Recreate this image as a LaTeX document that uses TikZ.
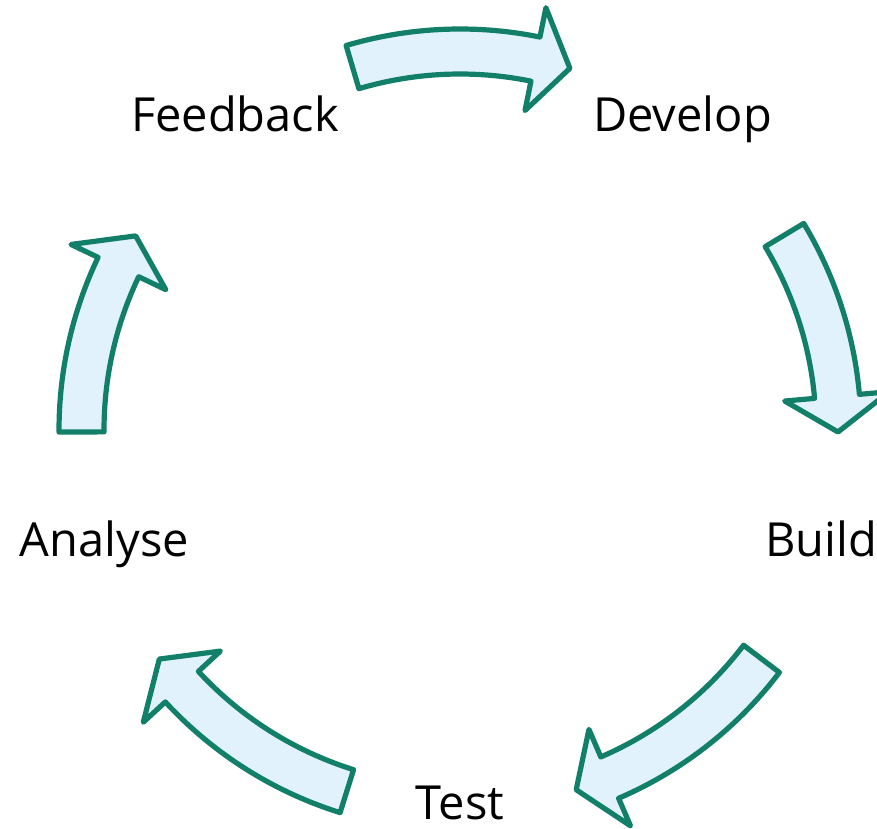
\documentclass[tikz,border=0pt]{standalone}
\usepackage{fontspec}
\setmainfont{Open Sans}
\definecolor{cyclefill}{RGB}{225,242,253}
\definecolor{cycleline}{RGB}{18,128,104}
\tikzset{
    cyclearrow/.style={draw=cycleline, fill=cyclefill, line width=5.2pt, line join=round},
    stage/.style={font=\fontsize{47}{56}\selectfont, inner sep=0pt, anchor=base},
}

\begin{document}
\begin{tikzpicture}[x=1pt, y=1pt]
\useasboundingbox (0,0) rectangle (877,828);
\coordinate (hub) at (460,398);

% Stages
\node[stage] (feedback) at (235,696.3) {Feedback};
\node[stage] (develop) at (682.5,696.3) {Develop};
\node[stage] (build) at (821,271.3) {Build};
\node[stage] (test) at (460,9) {Test};
\node[stage] (analyse) at (104.5,271.3) {Analyse};

% Curved block arrows round the hub
\begin{scope}[shift={(hub)}]
\foreach \tail/\tip in {106.5/73.1, 31/-0.3, -37.2/-72.1, -107.4/-142.7, 180.3/149.1} {
    \pgfmathsetmacro{\neck}{\tip+5.4}
    \draw[cyclearrow] (\tail:356pt) arc[start angle=\tail, end angle=\neck, radius=356pt]
        -- (\neck:326pt) -- (\tip:378pt) -- (\neck:431pt) -- (\neck:401pt)
        arc[start angle=\neck, end angle=\tail, radius=401pt] -- cycle;
}
\end{scope}
\end{tikzpicture}
\end{document}
